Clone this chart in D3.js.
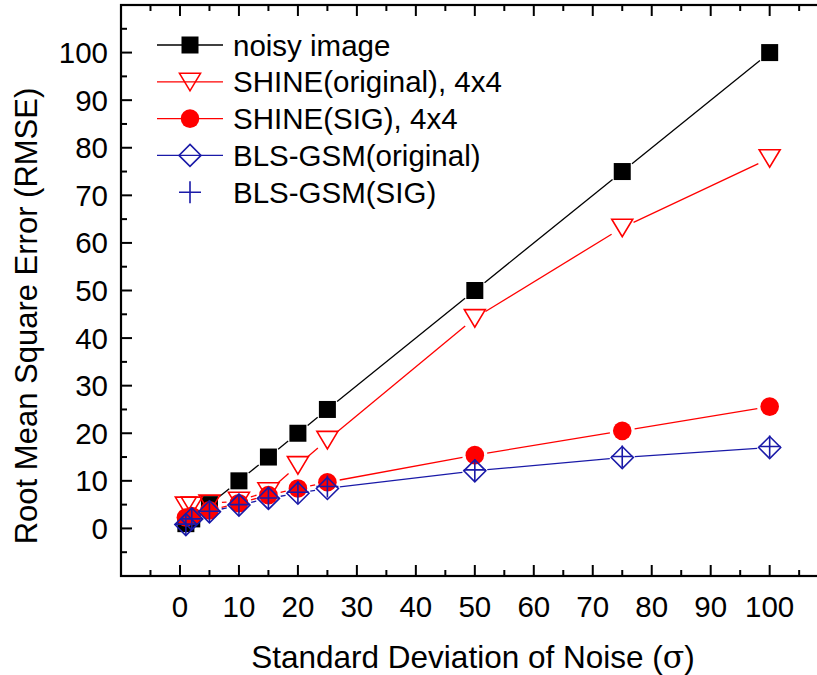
<!DOCTYPE html>
<html>
<head>
<meta charset="utf-8">
<script src="https://cdn.jsdelivr.net/npm/d3@7"></script>
<style>
  html, body { margin: 0; padding: 0; background: #fff; }
  svg { display: block; font-family: "Liberation Sans", Arial, sans-serif; }
</style>
</head>
<body>
<svg id="chart" width="817" height="675"></svg>
<script>
// Noise levels (sigma) and RMSE for each method
const sigma = [1, 2, 5, 10, 15, 20, 25, 50, 75, 100];
const noisyImage    = [1, 2, 5, 10, 15, 20, 25, 50, 75, 100];
const shineOriginal = [4.8, 4.8, 5.2, 5.8, 7.8, 13.3, 18.6, 44.2, 63.2, 77.8];
const shineSig      = [2.3, 2.6, 3.8, 5.3, 7.0, 8.4, 9.7, 15.4, 20.5, 25.6];
const blsOriginal   = [0.8, 2.0, 3.5, 4.9, 6.3, 7.4, 8.4, 12.1, 14.9, 17.0];
const blsSig        = [0.9, 2.0, 3.6, 5.0, 6.4, 7.6, 8.8, 12.3, 15.1, 17.2];

const xTicks = [0, 10, 20, 30, 40, 50, 60, 70, 80, 90, 100];
const yTicks = [0, 10, 20, 30, 40, 50, 60, 70, 80, 90, 100];
const xMinor = d3.range(-5, 110, 10);
const yMinor = d3.range(-5, 110, 10);

const series = [
  { name: "noisy image",          values: noisyImage,    color: "#000000", marker: "square",   line: true },
  { name: "SHINE(original), 4x4", values: shineOriginal, color: "#ff0000", marker: "triangle", line: true },
  { name: "SHINE(SIG), 4x4",      values: shineSig,      color: "#ff0000", marker: "circle",   line: true },
  { name: "BLS-GSM(original)",    values: blsOriginal,   color: "#1a1aa8", marker: "diamond",  line: true },
  { name: "BLS-GSM(SIG)",         values: blsSig,        color: "#1a1aa8", marker: "plus",     line: false }
];

const svg = d3.select("#chart");
const plotLeft = 121, plotTop = 5, plotBottom = 576;
const x = d3.scaleLinear().domain([-10, 110]).range([plotLeft, plotLeft + 120 * 5.897]);
const y = d3.scaleLinear().domain([-10, 110]).range([plotBottom, plotTop]);
const plotRight = x(110);

// marker shapes
function drawMarker(g, type, cx, cy, color) {
  if (type === "square") {
    g.append("rect").attr("x", cx - 8.5).attr("y", cy - 8.5).attr("width", 17).attr("height", 17)
      .attr("fill", color);
  } else if (type === "circle") {
    g.append("circle").attr("cx", cx).attr("cy", cy).attr("r", 9.3).attr("fill", color);
  } else if (type === "triangle") {
    g.append("path").attr("d", `M${cx - 10.5},${cy - 8.5}L${cx + 10.5},${cy - 8.5}L${cx},${cy + 9}Z`)
      .attr("fill", "none").attr("stroke", color).attr("stroke-width", 1.6);
  } else if (type === "diamond") {
    g.append("path").attr("d", `M${cx},${cy - 11}L${cx + 11},${cy}L${cx},${cy + 11}L${cx - 11},${cy}Z`)
      .attr("fill", "none").attr("stroke", color).attr("stroke-width", 1.6);
  } else if (type === "plus") {
    g.append("path").attr("d", `M${cx - 11},${cy}L${cx + 11},${cy}M${cx},${cy - 11}L${cx},${cy + 11}`)
      .attr("fill", "none").attr("stroke", color).attr("stroke-width", 1.6);
  }
}

const plot = svg.append("g");
const gap = 12.5;
series.forEach(s => {
  const g = plot.append("g");
  const pts = sigma.map((v, i) => [x(v), y(s.values[i])]);
  if (s.line) {
    // connecting segments stop short of each marker
    for (let i = 0; i < pts.length - 1; i++) {
      const [x1, y1] = pts[i], [x2, y2] = pts[i + 1];
      const dx = x2 - x1, dy = y2 - y1, d = Math.hypot(dx, dy);
      if (d <= 2 * gap) continue;
      const ux = dx / d, uy = dy / d;
      g.append("line")
        .attr("x1", x1 + ux * gap).attr("y1", y1 + uy * gap)
        .attr("x2", x2 - ux * gap).attr("y2", y2 - uy * gap)
        .attr("stroke", s.color).attr("stroke-width", 1.3);
    }
  }
  pts.forEach(p => drawMarker(g, s.marker, p[0], p[1], s.color));
});

// frame
svg.append("rect").attr("x", plotLeft).attr("y", plotTop)
  .attr("width", plotRight - plotLeft).attr("height", plotBottom - plotTop)
  .attr("fill", "none").attr("stroke", "#000").attr("stroke-width", 2.2);

// ticks pointing inward
const tk = svg.append("g").attr("stroke", "#000").attr("stroke-width", 2);
xTicks.forEach(v => {
  tk.append("line").attr("x1", x(v)).attr("x2", x(v)).attr("y1", plotBottom).attr("y2", plotBottom - 11);
  tk.append("line").attr("x1", x(v)).attr("x2", x(v)).attr("y1", plotTop).attr("y2", plotTop + 11);
});
xMinor.forEach(v => {
  tk.append("line").attr("x1", x(v)).attr("x2", x(v)).attr("y1", plotBottom).attr("y2", plotBottom - 6);
  tk.append("line").attr("x1", x(v)).attr("x2", x(v)).attr("y1", plotTop).attr("y2", plotTop + 6);
});
yTicks.forEach(v => {
  tk.append("line").attr("x1", plotLeft).attr("x2", plotLeft + 11).attr("y1", y(v)).attr("y2", y(v));
});
yMinor.forEach(v => {
  tk.append("line").attr("x1", plotLeft).attr("x2", plotLeft + 6).attr("y1", y(v)).attr("y2", y(v));
});

// tick labels
const fs = 29.5;
svg.append("g").selectAll("text").data(xTicks).join("text")
  .attr("x", d => x(d)).attr("y", 617).attr("text-anchor", "middle")
  .attr("font-size", fs).text(d => d);
svg.append("g").selectAll("text").data(yTicks).join("text")
  .attr("x", 108).attr("y", d => y(d) + 10.5).attr("text-anchor", "end")
  .attr("font-size", fs).text(d => d);

// axis titles
svg.append("text").attr("x", 473).attr("y", 668).attr("text-anchor", "middle")
  .attr("font-size", 31.5)
  .html('Standard Deviation of Noise (<tspan font-family="DejaVu Serif">σ</tspan>)');
svg.append("text").attr("transform", "translate(37,316) rotate(-90)").attr("text-anchor", "middle")
  .attr("font-size", 31).text("Root Mean Square Error (RMSE)");

// legend
const leg = svg.append("g");
series.forEach((s, i) => {
  const cy = 45 + i * 36.8;
  if (s.line) {
    leg.append("line").attr("x1", 157).attr("x2", 223).attr("y1", cy).attr("y2", cy)
      .attr("stroke", s.color).attr("stroke-width", 1.3);
  }
  drawMarker(leg, s.marker, 190, cy, s.color);
  leg.append("text").attr("x", 233).attr("y", cy + 10.5).attr("font-size", 29.5).text(s.name);
});
</script>
</body>
</html>
